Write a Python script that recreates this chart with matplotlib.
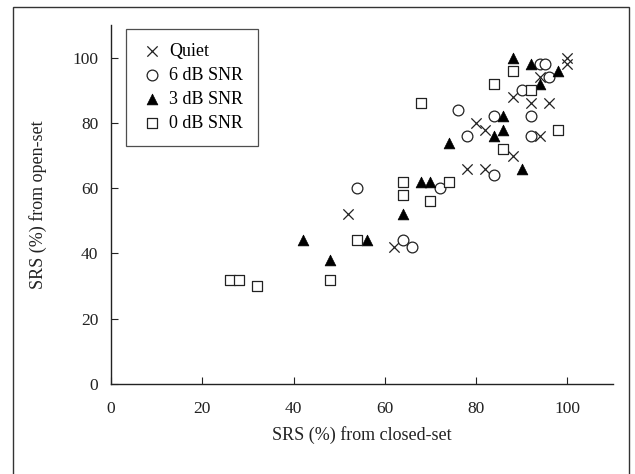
import matplotlib.pyplot as plt
from matplotlib.patches import Rectangle

plt.rcParams['font.family'] = ['Liberation Serif', 'DejaVu Serif']

# SRS (%) closed-set (x) vs open-set (y)
quiet_x = [100, 100, 94, 88, 92, 96, 94, 88, 80, 82, 78, 82, 52, 62]
quiet_y = [100, 98, 94, 88, 86, 86, 76, 70, 80, 78, 66, 66, 52, 42]

snr6_x = [94, 95, 96, 90, 76, 78, 84, 92, 92, 84, 72, 54, 64, 66]
snr6_y = [98, 98, 94, 90, 84, 76, 82, 82, 76, 64, 60, 60, 44, 42]

snr3_x = [88, 92, 98, 94, 86, 86, 84, 74, 90, 68, 70, 64, 42, 48, 56]
snr3_y = [100, 98, 96, 92, 82, 78, 76, 74, 66, 62, 62, 52, 44, 38, 44]

snr0_x = [88, 84, 68, 92, 98, 86, 64, 64, 74, 70, 54, 48, 26, 28, 32]
snr0_y = [96, 92, 86, 90, 78, 72, 62, 58, 62, 56, 44, 32, 32, 32, 30]

ticks = [0, 20, 40, 60, 80, 100]

fig = plt.figure(figsize=(6.35, 4.74), dpi=100)
ax = fig.add_axes([0.1748, 0.1899, 0.7906, 0.7571])

ink = '#222222'
ax.scatter(quiet_x, quiet_y, marker='x', s=55, color=ink, linewidths=0.9, label='Quiet', zorder=3)
ax.scatter(snr6_x, snr6_y, marker='o', s=60, facecolors='white', edgecolors=ink, linewidths=0.9, label='6 dB SNR', zorder=3)
ax.scatter(snr3_x, snr3_y, marker='^', s=60, color='black', linewidths=0.5, label='3 dB SNR', zorder=3)
ax.scatter(snr0_x, snr0_y, marker='s', s=46, facecolors='white', edgecolors=ink, linewidths=0.9, label='0 dB SNR', zorder=3)

ax.set_xlim(0, 110)
ax.set_ylim(0, 110)
ax.set_xticks(ticks)
ax.set_yticks(ticks)
ax.spines['top'].set_visible(False)
ax.spines['right'].set_visible(False)
for s in ['left', 'bottom']:
    ax.spines[s].set_color(ink)
    ax.spines[s].set_linewidth(1.0)
ax.tick_params(axis='x', direction='in', length=5, width=0.8, pad=12, labelsize=12.5, colors=ink)
ax.tick_params(axis='y', direction='in', length=5, width=0.8, pad=9, labelsize=12.5, colors=ink)

ax.set_xlabel('SRS (%) from closed-set', fontsize=13, color=ink, labelpad=7)
ax.set_ylabel('SRS (%) from open-set', fontsize=13, color=ink, labelpad=18)

leg = ax.legend(loc='upper left', bbox_to_anchor=(0.03, 0.99), borderaxespad=0,
                fancybox=False, frameon=True, fontsize=13, handletextpad=0.35,
                labelspacing=0.38, borderpad=0.8, handlelength=1.25)
leg.get_frame().set_edgecolor(ink)
leg.get_frame().set_linewidth(0.9)

# outer frame around the figure
fig.patches.append(Rectangle((0.02, -0.02), 0.971, 1.0046, transform=fig.transFigure,
                             fill=False, edgecolor='#333333', linewidth=1.0))

fig.savefig('out.png', dpi=100)
